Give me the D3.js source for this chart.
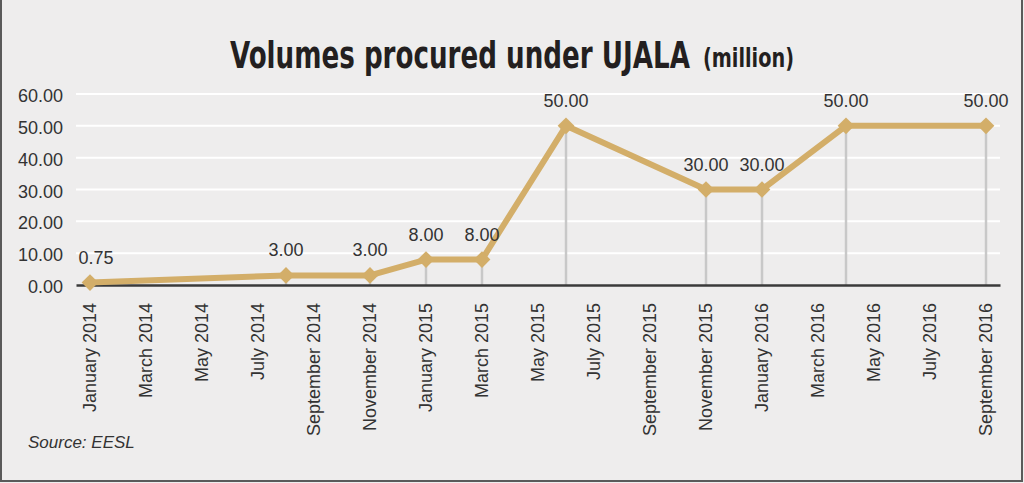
<!DOCTYPE html>
<html>
<head>
<meta charset="utf-8">
<script src="https://cdn.jsdelivr.net/npm/d3@7"></script>
<style>
  body { margin: 0; background: #ffffff; }
  text { font-family: "Liberation Sans", Arial, sans-serif; }
</style>
</head>
<body>
<script>
// points on the line
var pointMonths = ["2014-01", "2014-08", "2014-11", "2015-01", "2015-03",
                   "2015-06", "2015-11", "2016-01", "2016-04", "2016-09"];
var volumes = [0.75, 3, 3, 8, 8, 50, 30, 30, 50, 50];

// axis labels
var xTickLabels = ["January 2014", "March 2014", "May 2014", "July 2014",
                   "September 2014", "November 2014", "January 2015", "March 2015",
                   "May 2015", "July 2015", "September 2015", "November 2015",
                   "January 2016", "March 2016", "May 2016", "July 2016", "September 2016"];
var yTicks = [0, 10, 20, 30, 40, 50, 60];

var W = 1024, H = 483;
var plotLeft = 76, plotRight = 1000, plotTop = 94, plotBottom = 285;

var parse = d3.utcParse("%Y-%m");
var fmtKey = d3.utcFormat("%Y-%m");
var allMonths = d3.utcMonth.range(parse("2014-01"), parse("2016-10")).map(fmtKey);

var x = d3.scaleBand()
    .domain(allMonths)
    .range([plotLeft, plotRight])
    .padding(0);
var xc = function(m) { return x(m) + x.bandwidth() / 2; };

var y = d3.scaleLinear()
    .domain([0, 60])
    .range([plotBottom, plotTop]);

var data = pointMonths.map(function(m, i) { return {m: m, v: volumes[i]}; });

var svg = d3.select('body')
    .append('svg')
    .attr('width', W)
    .attr('height', H);

svg.append('rect')
    .attr('x', 0).attr('y', 0)
    .attr('width', W).attr('height', H)
    .attr('fill', '#eeeded');

// frame
svg.append('path')
    .attr('d', 'M1,0 V481 H1022 V0')
    .attr('fill', 'none')
    .attr('stroke', '#5a5a5a')
    .attr('stroke-width', 2);

// title, squeezed to fit the condensed look
function squeezed(str, x0, y0, size, width) {
    var t = svg.append('text')
        .attr('x', 0).attr('y', 0)
        .style('font-family', '"DejaVu Sans Condensed", "DejaVu Sans", sans-serif')
        .style('font-weight', 'bold')
        .style('font-size', size + 'px')
        .attr('fill', '#231f20')
        .text(str);
    var w = t.node().getComputedTextLength();
    t.attr('transform', 'translate(' + x0 + ',' + y0 + ') scale(' + (width / w) + ',1)');
}
squeezed('Volumes procured under UJALA', 230, 68, 38, 460);
squeezed('(million)', 703, 67, 26, 91);

// gridlines
svg.append('g')
    .selectAll('line')
    .data(yTicks.filter(function(d) { return d > 0; }))
    .enter().append('line')
    .attr('x1', plotLeft).attr('x2', plotRight)
    .attr('y1', function(d) { return y(d); })
    .attr('y2', function(d) { return y(d); })
    .attr('stroke', '#ffffff')
    .attr('stroke-width', 2);

// y axis (labels only)
var yAxis = d3.axisLeft(y)
    .tickValues(yTicks)
    .tickSize(0)
    .tickPadding(13)
    .tickFormat(d3.format('.2f'));

var gy = svg.append('g')
    .attr('transform', 'translate(' + plotLeft + ',0)')
    .call(yAxis);
gy.select('.domain').remove();
gy.selectAll('text')
    .style('font-family', '"Liberation Sans", Arial, sans-serif')
    .style('font-size', '18px')
    .attr('fill', '#333333')
    .attr('dy', '0.42em');

// drop lines
svg.append('g')
    .selectAll('line')
    .data(data)
    .enter().append('line')
    .attr('x1', function(d) { return xc(d.m); })
    .attr('x2', function(d) { return xc(d.m); })
    .attr('y1', function(d) { return y(d.v); })
    .attr('y2', plotBottom)
    .attr('stroke', '#c8c8c8')
    .attr('stroke-width', 2.5);

// x axis
var xAxis = d3.axisBottom(x)
    .tickValues(allMonths.filter(function(d, i) { return i % 2 === 0; }))
    .tickSize(0)
    .tickFormat(function(d, i) { return xTickLabels[i]; });

var gx = svg.append('g')
    .attr('transform', 'translate(0,' + plotBottom + ')')
    .call(xAxis);
gx.select('.domain')
    .attr('stroke', '#3a3a3a')
    .attr('stroke-width', 2.5);
gx.selectAll('text')
    .style('font-family', '"Liberation Sans", Arial, sans-serif')
    .style('font-size', '18px')
    .attr('fill', '#333333')
    .attr('transform', 'rotate(-90)')
    .attr('text-anchor', 'end')
    .attr('x', -18)
    .attr('y', 0)
    .attr('dy', '0.35em');

// the line
var line = d3.line()
    .x(function(d) { return xc(d.m); })
    .y(function(d) { return y(d.v); });

svg.append('path')
    .datum(data)
    .attr('d', line)
    .attr('fill', 'none')
    .attr('stroke', '#d3ae69')
    .attr('stroke-width', 6)
    .attr('stroke-linejoin', 'round');

// diamond markers
svg.append('g')
    .selectAll('path')
    .data(data)
    .enter().append('path')
    .attr('d', d3.symbol().type(d3.symbolSquare).size(140))
    .attr('transform', function(d) {
        return 'translate(' + xc(d.m) + ',' + y(d.v) + ') rotate(45)';
    })
    .attr('fill', '#d3ae69');

// value labels
svg.append('g')
    .selectAll('text')
    .data(data)
    .enter().append('text')
    .attr('x', function(d) { return xc(d.m) + (d.v < 1 ? 6 : 0); })
    .attr('y', function(d) { return y(d.v) - 19; })
    .attr('text-anchor', 'middle')
    .style('font-size', '18px')
    .attr('fill', '#333333')
    .text(function(d) { return d3.format('.2f')(d.v); });

// source
svg.append('text')
    .attr('x', 28).attr('y', 448)
    .style('font-size', '17px')
    .style('font-style', 'italic')
    .attr('fill', '#333333')
    .text('Source: EESL');
</script>
</body>
</html>
